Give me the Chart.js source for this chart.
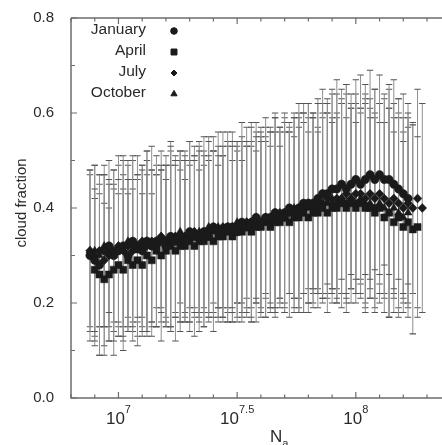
<!DOCTYPE html>
<html>
<head>
<meta charset="utf-8">
<script src="https://cdn.jsdelivr.net/npm/chart.js@4.4.1/dist/chart.umd.min.js"></script>
<style>
  html, body { margin: 0; padding: 0; background: #fff; overflow: hidden; }
  #chart { display: block; width: 480px; height: 445px; }
</style>
</head>
<body>
<canvas id="chart" width="480" height="445"></canvas>
<script>
// log10(N_a) bin centres
const bins = [
  6.88, 6.90, 6.92, 6.94, 6.96, 6.98, 7.00, 7.02, 7.04, 7.06,
  7.08, 7.10, 7.12, 7.14, 7.16, 7.18, 7.20, 7.22, 7.24, 7.26,
  7.28, 7.30, 7.32, 7.34, 7.36, 7.38, 7.40, 7.42, 7.44, 7.46,
  7.48, 7.50, 7.52, 7.54, 7.56, 7.58, 7.60, 7.62, 7.64, 7.66,
  7.68, 7.70, 7.72, 7.74, 7.76, 7.78, 7.80, 7.82, 7.84, 7.86,
  7.88, 7.90, 7.92, 7.94, 7.96, 7.98, 8.00, 8.02, 8.04, 8.06,
  8.08, 8.10, 8.12, 8.14, 8.16, 8.18, 8.20, 8.22, 8.24, 8.26,
  8.28
]

const month_names = ['January', 'April', 'July', 'October']

const mean_jan = [
  0.30, 0.29, 0.28, 0.31, 0.32, 0.30, 0.31, 0.32, 0.30, 0.33,
  0.32, 0.31, 0.33, 0.32, 0.33, 0.33, 0.32, 0.34, 0.33, 0.34,
  0.33, 0.35, 0.34, 0.34, 0.35, 0.34, 0.36, 0.35, 0.35, 0.36,
  0.36, 0.35, 0.37, 0.36, 0.37, 0.38, 0.37, 0.38, 0.38, 0.39,
  0.38, 0.39, 0.40, 0.39, 0.40, 0.41, 0.41, 0.41, 0.42, 0.43,
  0.43, 0.44, 0.44, 0.45, 0.44, 0.45, 0.46, 0.45, 0.46, 0.47,
  0.46, 0.47, 0.46, 0.46, 0.45, 0.44, 0.43, 0.42, null, null,
  null
]
const mean_apr = [
  null, 0.27, 0.26, 0.25, 0.26, 0.27, 0.28, 0.27, 0.29, 0.28,
  0.29, 0.28, 0.30, 0.29, 0.31, 0.30, 0.31, 0.32, 0.31, 0.32,
  0.32, 0.33, 0.32, 0.33, 0.33, 0.34, 0.33, 0.34, 0.34, 0.35,
  0.34, 0.35, 0.35, 0.36, 0.35, 0.36, 0.36, 0.37, 0.36, 0.37,
  0.37, 0.38, 0.37, 0.38, 0.38, 0.39, 0.38, 0.39, 0.39, 0.40,
  0.39, 0.40, 0.40, 0.41, 0.40, 0.41, 0.40, 0.41, 0.40, 0.40,
  0.39, 0.40, 0.38, 0.39, 0.37, 0.38, 0.36, 0.37, 0.355, 0.36,
  null
]
const mean_jul = [
  0.31, 0.30, 0.31, 0.29, 0.30, 0.31, 0.32, 0.31, 0.32, 0.31,
  0.32, 0.33, 0.32, 0.33, 0.32, 0.34, 0.33, 0.34, 0.34, 0.33,
  0.34, 0.34, 0.35, 0.34, 0.35, 0.35, 0.36, 0.35, 0.36, 0.36,
  0.35, 0.36, 0.36, 0.37, 0.36, 0.37, 0.37, 0.38, 0.37, 0.38,
  0.39, 0.38, 0.39, 0.39, 0.40, 0.40, 0.41, 0.40, 0.41, 0.41,
  0.42, 0.41, 0.42, 0.42, 0.43, 0.42, 0.43, 0.43, 0.42, 0.43,
  0.42, 0.43, 0.42, 0.41, 0.42, 0.41, 0.40, 0.41, 0.40, 0.42,
  0.40
]
const mean_oct = [
  0.31, 0.31, 0.30, 0.32, 0.31, 0.30, 0.32, 0.31, 0.33, 0.32,
  0.31, 0.32, 0.33, 0.32, 0.33, 0.34, 0.33, 0.33, 0.34, 0.35,
  0.34, 0.34, 0.35, 0.35, 0.34, 0.36, 0.35, 0.36, 0.35, 0.36,
  0.36, 0.37, 0.36, 0.37, 0.37, 0.38, 0.37, 0.38, 0.38, 0.39,
  0.38, 0.39, 0.39, 0.40, 0.39, 0.40, 0.40, 0.41, 0.40, 0.41,
  0.41, 0.42, 0.41, 0.42, 0.41, 0.42, 0.41, 0.42, 0.41, 0.41,
  0.40, 0.41, 0.40, 0.39, 0.40, 0.39, 0.38, 0.39, null, null,
  null
]

// one standard deviation, per month and bin
const sd_jan = [
  0.18, 0.15, 0.19, 0.16, 0.14, 0.18, 0.15, 0.19, 0.16, 0.18,
  0.15, 0.17, 0.19, 0.16, 0.18, 0.15, 0.17, 0.19, 0.16, 0.18,
  0.17, 0.19, 0.16, 0.18, 0.20, 0.17, 0.19, 0.16, 0.18, 0.20,
  0.17, 0.19, 0.21, 0.18, 0.20, 0.17, 0.19, 0.21, 0.18, 0.20,
  0.19, 0.21, 0.18, 0.20, 0.22, 0.19, 0.21, 0.18, 0.20, 0.22,
  0.19, 0.21, 0.23, 0.20, 0.22, 0.19, 0.21, 0.23, 0.20, 0.22,
  0.19, 0.21, 0.18, 0.20, 0.22, 0.19, 0.21, 0.18, null, null,
  null
]
const sd_apr = [
  null, 0.15, 0.17, 0.16, 0.14, 0.18, 0.15, 0.17, 0.14, 0.16,
  0.18, 0.15, 0.17, 0.14, 0.16, 0.18, 0.15, 0.17, 0.19, 0.16,
  0.14, 0.17, 0.19, 0.15, 0.18, 0.16, 0.19, 0.15, 0.17, 0.19,
  0.16, 0.18, 0.15, 0.17, 0.19, 0.16, 0.18, 0.20, 0.17, 0.19,
  0.16, 0.18, 0.20, 0.17, 0.19, 0.21, 0.18, 0.20, 0.17, 0.19,
  0.21, 0.18, 0.20, 0.22, 0.19, 0.21, 0.18, 0.20, 0.22, 0.19,
  0.21, 0.18, 0.20, 0.22, 0.19, 0.21, 0.18, 0.20, 0.22, 0.19,
  null
]
const sd_jul = [
  0.17, 0.19, 0.16, 0.18, 0.15, 0.17, 0.19, 0.16, 0.18, 0.15,
  0.19, 0.16, 0.18, 0.20, 0.17, 0.15, 0.18, 0.20, 0.16, 0.19,
  0.17, 0.15, 0.18, 0.20, 0.17, 0.19, 0.16, 0.18, 0.20, 0.17,
  0.19, 0.16, 0.18, 0.20, 0.17, 0.21, 0.18, 0.16, 0.19, 0.21,
  0.18, 0.20, 0.17, 0.21, 0.19, 0.22, 0.18, 0.20, 0.22, 0.19,
  0.21, 0.18, 0.22, 0.20, 0.23, 0.19, 0.21, 0.18, 0.22, 0.20,
  0.23, 0.19, 0.21, 0.24, 0.20, 0.22, 0.19, 0.21, 0.18, 0.23,
  0.22
]
const sd_oct = [
  0.16, 0.18, 0.15, 0.17, 0.19, 0.14, 0.17, 0.19, 0.16, 0.18,
  0.15, 0.17, 0.19, 0.16, 0.14, 0.18, 0.16, 0.19, 0.17, 0.15,
  0.18, 0.20, 0.16, 0.18, 0.15, 0.19, 0.17, 0.20, 0.16, 0.18,
  0.20, 0.17, 0.19, 0.16, 0.21, 0.18, 0.20, 0.17, 0.19, 0.21,
  0.18, 0.20, 0.17, 0.19, 0.21, 0.18, 0.22, 0.19, 0.17, 0.21,
  0.19, 0.22, 0.18, 0.20, 0.23, 0.19, 0.21, 0.18, 0.22, 0.20,
  0.19, 0.21, 0.18, 0.22, 0.19, 0.21, 0.18, 0.20, null, null,
  null
]

const x_tick_labels = [
  { value: 7, exp: '7' },
  { value: 7.5, exp: '7.5' },
  { value: 8, exp: '8' }
]

const month_means = [mean_jan, mean_apr, mean_jul, mean_oct]
const month_sds = [sd_jan, sd_apr, sd_jul, sd_oct]
const month_styles = [
  { pointStyle: 'circle', radius: 4.2 },
  { pointStyle: 'rect', radius: 5 },
  { pointStyle: 'rectRot', radius: 4.4 },
  { pointStyle: 'triangle', radius: 4.6 }
]
const legend_styles = [
  { pointStyle: 'circle', radius: 3.3 },
  { pointStyle: 'rect', radius: 4.2 },
  { pointStyle: 'rectRot', radius: 3 },
  { pointStyle: 'triangle', radius: 3.6 }
]

const INK = '#1a1a1a'
const AXIS = '#6c6c6c'
const FONT = "'Liberation Sans', Arial, Helvetica, sans-serif"

function marker_points(means) {
  const out = []
  bins.forEach((x, i) => {
    if (means[i] != null) out.push({ x: x, y: means[i] })
  })
  return out
}

function error_points(means, sds) {
  // pairs of (low, high) broken by a null so each bar is its own segment
  const out = []
  bins.forEach((x, i) => {
    if (means[i] == null) return
    out.push({ x: x, y: means[i] - sds[i] })
    out.push({ x: x, y: means[i] + sds[i] })
    out.push({ x: x, y: null })
  })
  return out
}

function build_datasets() {
  const datasets = []
  month_names.forEach((name, m) => {
    datasets.push({
      label: name,
      data: marker_points(month_means[m]),
      showLine: false,
      pointStyle: month_styles[m].pointStyle,
      pointRadius: month_styles[m].radius,
      pointBackgroundColor: INK,
      pointBorderColor: INK,
      pointBorderWidth: 0.5,
      order: 0
    })
  })
  month_names.forEach((name, m) => {
    datasets.push({
      label: name + ' sd',
      data: error_points(month_means[m], month_sds[m]),
      showLine: true,
      spanGaps: false,
      borderColor: '#8e8e8e',
      borderWidth: 1,
      pointStyle: 'line',
      pointRadius: 3.2,
      pointBorderColor: '#555555',
      pointBorderWidth: 1.1,
      pointBackgroundColor: '#555555',
      order: 1
    })
  })
  return datasets
}

const frame_plugin = {
  id: 'frame',
  afterDatasetsDraw(chart) {
    const ctx = chart.ctx
    const area = chart.chartArea
    const xs = chart.scales.x
    const ys = chart.scales.y
    ctx.save()
    ctx.strokeStyle = AXIS
    ctx.lineWidth = 1.5
    ctx.beginPath()
    ctx.moveTo(area.left, area.top)
    ctx.lineTo(area.left, area.bottom)
    ctx.lineTo(area.right, area.bottom)
    ctx.moveTo(area.left, area.top)
    ctx.lineTo(area.right, area.top)
    ctx.stroke()

    ctx.lineWidth = 1.2
    ctx.beginPath()
    for (let k = 0; k <= 8; k++) {
      const py = ys.getPixelForValue(k / 10)
      const len = k % 2 == 0 ? 6 : 4
      ctx.moveTo(area.left, py)
      ctx.lineTo(area.left + len, py)
    }
    for (let k = 68; k <= 85; k++) {
      const px = xs.getPixelForValue(k / 10)
      const len = k % 5 == 0 ? 6 : 3.5
      ctx.moveTo(px, area.bottom)
      ctx.lineTo(px, area.bottom - len)
      ctx.moveTo(px, area.top)
      ctx.lineTo(px, area.top + len)
    }
    ctx.stroke()
    ctx.restore()
  },
  afterDraw(chart) {
    const ctx = chart.ctx
    const xs = chart.scales.x
    ctx.save()
    ctx.fillStyle = '#2a2a2a'

    // x tick labels 10^n
    x_tick_labels.forEach(t => {
      const px = xs.getPixelForValue(t.value)
      ctx.font = '17px ' + FONT
      const w_base = ctx.measureText('10').width
      ctx.font = '11px ' + FONT
      const w_exp = ctx.measureText(t.exp).width
      const start = px - (w_base + w_exp) / 2
      ctx.textAlign = 'left'
      ctx.textBaseline = 'alphabetic'
      ctx.font = '17px ' + FONT
      ctx.fillText('10', start, 424)
      ctx.font = '11px ' + FONT
      ctx.fillText(t.exp, start + w_base, 413)
    })

    // x title N_a
    ctx.font = '17px ' + FONT
    ctx.fillText('N', 270, 442)
    const w_n = ctx.measureText('N').width
    ctx.font = '11px ' + FONT
    ctx.fillText('a', 270 + w_n, 447)

    // y title
    ctx.save()
    ctx.translate(22, 203)
    ctx.rotate(-Math.PI / 2)
    ctx.font = '15px ' + FONT
    ctx.textAlign = 'center'
    ctx.textBaseline = 'middle'
    ctx.fillText('cloud fraction', 0, 0)
    ctx.restore()

    // legend
    const rows = [34, 55, 76, 97]
    month_names.forEach((name, m) => {
      ctx.font = '15.5px ' + FONT
      ctx.textAlign = 'right'
      ctx.fillStyle = '#2a2a2a'
      ctx.fillText(name, 146, rows[m])
      ctx.fillStyle = INK
      ctx.strokeStyle = INK
      Chart.helpers.drawPoint(ctx, {
        pointStyle: legend_styles[m].pointStyle,
        radius: legend_styles[m].radius,
        rotation: 0,
        borderWidth: 0.5
      }, 174, rows[m] - 3)
    })
    ctx.restore()
  }
}

function create_chart(elem_id) {
  const ctx = document.getElementById(elem_id)
  return new Chart(ctx, {
    type: 'scatter',
    data: { datasets: build_datasets() },
    options: {
      responsive: false,
      animation: false,
      events: [],
      layout: { padding: { top: 15, right: 2, left: 0, bottom: 0 } },
      plugins: {
        legend: { display: false },
        tooltip: { enabled: false }
      },
      elements: { point: { hoverRadius: 0 } },
      scales: {
        x: {
          type: 'linear',
          min: 6.8,
          max: 8.5,
          grid: { display: false },
          border: { display: false },
          ticks: { display: false },
          afterFit: scale => { scale.height = 47 }
        },
        y: {
          min: 0,
          max: 0.8,
          grid: { display: false },
          border: { display: false },
          ticks: {
            stepSize: 0.2,
            padding: 9,
            color: '#2a2a2a',
            font: { family: FONT, size: 15 },
            callback: v => v.toFixed(1)
          },
          afterFit: scale => { scale.width = 71 }
        }
      }
    },
    plugins: [frame_plugin]
  })
}

create_chart('chart')
</script>
</body>
</html>
